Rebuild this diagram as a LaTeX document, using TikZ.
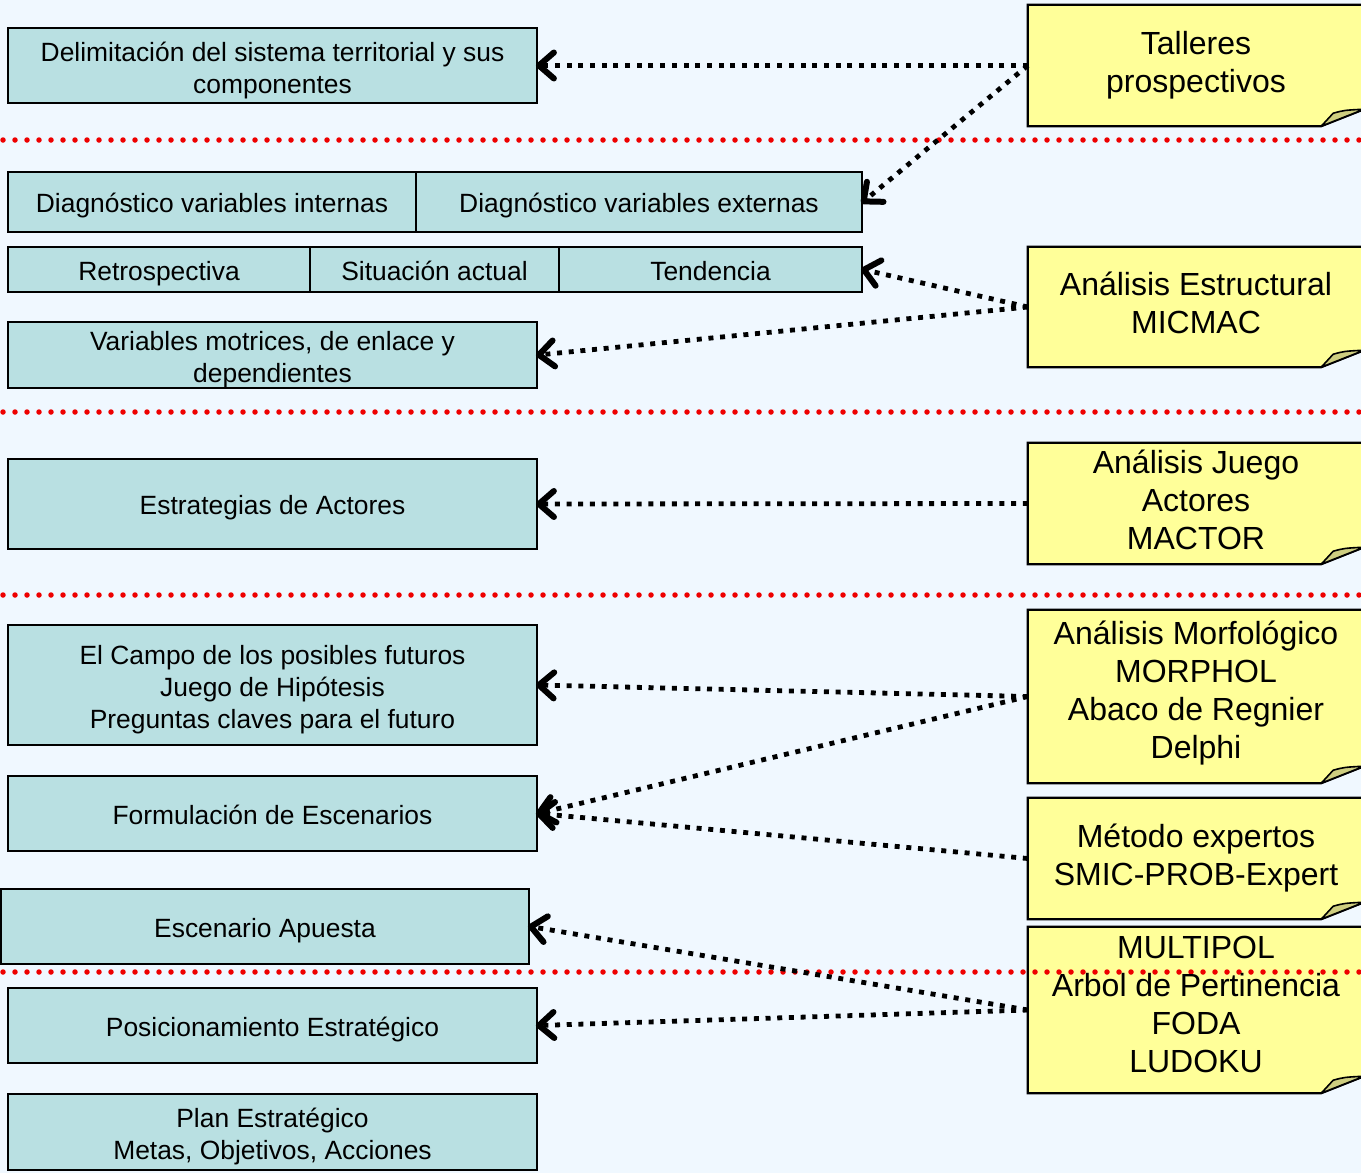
\documentclass[tikz,border=0pt]{standalone}
\usepackage{fontspec}
\setmainfont{Liberation Sans}
\usetikzlibrary{arrows.meta,backgrounds,calc}

\definecolor{pagebg}{RGB}{240,248,255}
\definecolor{boxfill}{RGB}{185,224,226}
\definecolor{notefill}{RGB}{255,255,153}
\definecolor{flapfill}{RGB}{206,206,128}
\definecolor{sepred}{RGB}{238,0,0}

% strut for the first line of multi-line stage boxes
\newcommand\stagestrut{\rule{0pt}{29pt}}

\tikzset{
  stagebox/.style={draw=black, line width=1.8pt, fill=boxfill, inner sep=0pt,
    align=center, font=\fontsize{26.4}{32}\selectfont,
    execute at begin node={\rule{0pt}{27pt}},
    execute at end node={\rule[-5.6pt]{0pt}{5.6pt}}},
  notebox/.style={inner sep=0pt, minimum width=336pt},
  notetxt/.style={align=center, inner sep=0pt, font=\fontsize{32}{38}\selectfont},
  notebody/.style={draw=black, line width=2.2pt, fill=notefill, line join=miter},
  noteflap/.style={draw=black, line width=1.6pt, fill=flapfill, line join=round},
  separator/.style={draw=sepred, line width=5.5pt, line cap=round, dash pattern=on 0pt off 12pt},
  toolarrow/.style={draw=black, line width=4.8pt, dash pattern=on 5pt off 6.7pt,
    -{Straight Barb[length=15pt,width=26pt,line width=6pt,line cap=round,line join=round]},
    shorten >=-2pt}
}

\begin{document}
\begin{tikzpicture}[x=1pt,y=-1pt]
\useasboundingbox (0,0) rectangle (1361,1173);
\clip (0,0) rectangle (1361,1173);

% stages of the prospective process
\node[stagebox, minimum width=529pt, minimum height=75pt] (b1) at (272.5,65.5)
  {\stagestrut Delimitación del sistema territorial y sus\\componentes};
\node[stagebox, minimum width=408pt, minimum height=60pt] (b2a) at (212,202)
  {Diagnóstico variables internas};
\node[stagebox, minimum width=446pt, minimum height=60pt] (b2b) at (639,202)
  {Diagnóstico variables externas};
\node[stagebox, minimum width=302pt, minimum height=45pt] (b3a) at (159,269.5)
  {Retrospectiva};
\node[stagebox, minimum width=249pt, minimum height=45pt] (b3b) at (434.5,269.5)
  {Situación actual};
\node[stagebox, minimum width=303pt, minimum height=45pt] (b3c) at (710.5,269.5)
  {Tendencia};
\node[stagebox, minimum width=529pt, minimum height=64pt] (b4) at (272.5,355)
  {\stagestrut Variables motrices, de enlace y\\dependientes};
\node[stagebox, minimum width=529pt, minimum height=90pt] (b5) at (272.5,504)
  {Estrategias de Actores};
\node[stagebox, minimum width=529pt, minimum height=120pt] (b6) at (272.5,685)
  {\stagestrut El Campo de los posibles futuros\\Juego de Hipótesis\\Preguntas claves para el futuro};
\node[stagebox, minimum width=529pt, minimum height=75pt] (b7) at (272.5,813.5)
  {Formulación de Escenarios};
\node[stagebox, minimum width=528pt, minimum height=75pt] (b8) at (265,926.5)
  {Escenario Apuesta};
\node[stagebox, minimum width=529pt, minimum height=75pt] (b9) at (272.5,1025.5)
  {Posicionamiento Estratégico};
\node[stagebox, minimum width=529pt, minimum height=76pt] (b10) at (272.5,1132)
  {\stagestrut Plan Estratégico\\Metas, Objetivos, Acciones};

% tool notes (outline drawn on the background layer)
\node[notebox, minimum height=121pt] (n1) at (1196,65.5) {};
\node[notebox, minimum height=120pt] (n2) at (1196,307) {};
\node[notebox, minimum height=121pt] (n3) at (1196,503.5) {};
\node[notebox, minimum height=173pt] (n4) at (1196,696.5) {};
\node[notebox, minimum height=121pt] (n5) at (1196,858.5) {};
\node[notebox, minimum height=166pt] (n6) at (1196,1010) {};

\begin{scope}[on background layer]
  \fill[pagebg] (0,0) rectangle (1361,1173);
  \foreach \n in {n1,n2,n3,n4,n5,n6} {
    \path[notebody] (\n.north west) -- (\n.north east)
      -- ([yshift=17pt]\n.south east) -- ([xshift=-43pt]\n.south east)
      -- (\n.south west) -- cycle;
    \path[noteflap] ([xshift=-43pt]\n.south east)
      -- ([xshift=-31pt,yshift=13pt]\n.south east)
      .. controls ([xshift=-20pt,yshift=16pt]\n.south east) .. ([yshift=17pt]\n.south east)
      -- cycle;
  }
  % phase separators
  \foreach \yy in {140,412,595,972}
    \draw[separator] (3,\yy) -- (1361,\yy);
\end{scope}

\node[notetxt] (t1) at (n1.center) {Talleres\\prospectivos};
\node[notetxt] (t2) at ([yshift=4pt]n2.center) {Análisis Estructural\\MICMAC};
\node[notetxt] (t3) at ([yshift=4pt]n3.center) {Análisis Juego\\Actores\\MACTOR};
\node[notetxt] (t4) at ([yshift=3pt]n4.center) {Análisis Morfológico\\MORPHOL\\Abaco de Regnier\\Delphi};
\node[notetxt] (t5) at (n5.center) {Método expertos\\SMIC-PROB-Expert};
\node[notetxt] (t6) at ([yshift=6pt]n6.center) {MULTIPOL\\Arbol de Pertinencia\\FODA\\LUDOKU};

% tools feeding each stage
\draw[toolarrow] (n1.west) -- (b1.east);
\draw[toolarrow] (n1.west) -- (b2b.east);
\draw[toolarrow] (n2.west) -- (b3c.east);
\draw[toolarrow] (n2.west) -- (b4.east);
\draw[toolarrow] (n3.west) -- (b5.east);
\draw[toolarrow] (n4.west) -- (b6.east);
\draw[toolarrow] (n4.west) -- (b7.east);
\draw[toolarrow] (n5.west) -- (b7.east);
\draw[toolarrow] (n6.west) -- (b8.east);
\draw[toolarrow] (n6.west) -- (b9.east);
\end{tikzpicture}
\end{document}
